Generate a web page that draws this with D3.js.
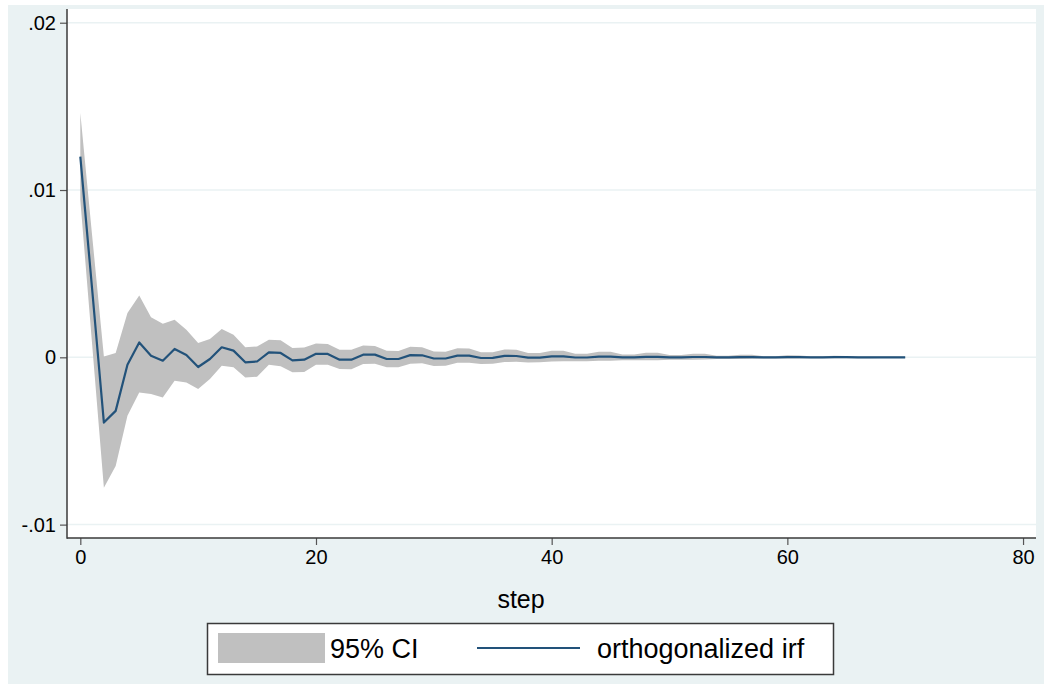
<!DOCTYPE html>
<html>
<head>
<meta charset="utf-8">
<script src="https://cdn.jsdelivr.net/npm/d3@7"></script>
<style>
  html, body { margin: 0; padding: 0; background: #ffffff; }
  svg { display: block; font-family: "Liberation Sans", Arial, Helvetica, sans-serif; }
</style>
</head>
<body>
<svg id="chart" width="1044" height="684"></svg>
<script>
// Orthogonalized impulse response with 95% confidence band, steps 0..70
const steps = d3.range(0, 71);

const irf = [
  0.0120, 0.0041, -0.0039, -0.0032, -0.00044, 0.00089, 0.0001, -0.0002, 0.0005, 0.00014,
  -0.00058, -0.0001, 0.0006, 0.0004, -0.0003, -0.00025, 0.0003, 0.00026, -0.00018, -0.00014,
  0.00021, 0.0002, -0.00014, -0.00014, 0.00016, 0.00016, -0.0001, -0.0001, 0.00013, 0.00012,
  -0.00007, -0.00007, 0.0001, 0.0001, -0.00004, -0.00003, 0.00009, 0.00008, -0.00002, -0.00002,
  0.00006, 0.00006, -0.00001, -0.00001, 0.00004, 0.00004, 0.0, 0.0, 0.00003, 0.00003,
  0.0, 0.0, 0.00002, 0.00002, 0.0, 0.0, 0.00001, 0.00001, 0.0, 0.0,
  0.00001, 0.00001, 0.0, 0.0, 0.00001, 0.00001, 0.0, 0.0, 0.0, 0.0,
  0.0
];

const ciUpper = [
  0.0146, 0.0073, 0.00005, 0.00026, 0.00265, 0.0037, 0.0024, 0.0020, 0.00225, 0.00165,
  0.00085, 0.0011, 0.0017, 0.00135, 0.0006, 0.00065, 0.00105, 0.00102, 0.00055, 0.00058,
  0.00082, 0.0008, 0.00045, 0.00045, 0.0007, 0.00068, 0.0004, 0.00038, 0.00063, 0.0006,
  0.00035, 0.00034, 0.00054, 0.00052, 0.0003, 0.0003, 0.00047, 0.00045, 0.00026, 0.00026,
  0.0004, 0.00039, 0.00021, 0.00021, 0.00034, 0.00033, 0.00017, 0.00017, 0.00028, 0.00027,
  0.00014, 0.00014, 0.00022, 0.00021, 0.0001, 0.0001, 0.00016, 0.00015, 0.00007, 0.00007,
  0.00012, 0.00011, 0.00006, 0.00006, 0.00009, 0.00008, 0.00005, 0.00005, 0.00005, 0.00005,
  0.00004
];

const ciLower = [
  0.0094, 0.0008, -0.0078, -0.0065, -0.0035, -0.0021, -0.0022, -0.0024, -0.0014, -0.0015,
  -0.0019, -0.0013, -0.0005, -0.0006, -0.0012, -0.00116, -0.00044, -0.00054, -0.0009, -0.00088,
  -0.00044, -0.00045, -0.0007, -0.00072, -0.0004, -0.00038, -0.0006, -0.0006, -0.00038, -0.00036,
  -0.00052, -0.0005, -0.00033, -0.00032, -0.0004, -0.00038, -0.00028, -0.00027, -0.00031, -0.0003,
  -0.00025, -0.00024, -0.00024, -0.00023, -0.00021, -0.0002, -0.00018, -0.00018, -0.00018, -0.00017,
  -0.00014, -0.00014, -0.00014, -0.00013, -0.0001, -0.0001, -0.0001, -0.00009, -0.00007, -0.00007,
  -0.00007, -0.00007, -0.00006, -0.00006, -0.00006, -0.00005, -0.00005, -0.00005, -0.00004, -0.00004,
  -0.00004
];

const yTickValues = [-0.01, 0, 0.01, 0.02];
const yTickLabels = ["-.01", "0", ".01", ".02"];
const xTickValues = [0, 20, 40, 60, 80];
const xTickLabels = ["0", "20", "40", "60", "80"];
const xTitle = "step";
const legendLabels = ["95% CI", "orthogonalized irf"];

const COL_BG = "#eaf2f3";
const COL_BAND = "#c0c0c0";
const COL_LINE = "#22527a";
const COL_AXIS = "#3a3a3a";

const svg = d3.select("#chart");

// Graph region background
svg.append("rect").attr("x", 8).attr("y", 5).attr("width", 1036).attr("height", 679).attr("fill", COL_BG);

const plot = { left: 67, right: 1036, top: 9, bottom: 538 };

// Plot region
svg.append("rect")
  .attr("x", plot.left).attr("y", plot.top)
  .attr("width", plot.right - plot.left).attr("height", plot.bottom - plot.top)
  .attr("fill", "#ffffff");

const x = d3.scaleLinear().domain([-1.13, 81.1]).range([plot.left, plot.right]);
const y = d3.scaleLinear().domain([-0.0108, 0.02082]).range([plot.bottom, plot.top]);

// Horizontal grid lines
svg.append("g").selectAll("line").data(yTickValues).join("line")
  .attr("x1", plot.left).attr("x2", plot.right)
  .attr("y1", d => y(d)).attr("y2", d => y(d))
  .attr("stroke", COL_BG).attr("stroke-width", 1.5);

// Confidence band
const area = d3.area()
  .x((d, i) => x(steps[i]))
  .y0((d, i) => y(ciLower[i]))
  .y1((d, i) => y(ciUpper[i]));
svg.append("path").datum(steps).attr("d", area).attr("fill", COL_BAND);

// Impulse response line
const line = d3.line().x((d, i) => x(steps[i])).y((d, i) => y(irf[i]));
svg.append("path").datum(steps).attr("d", line)
  .attr("fill", "none").attr("stroke", COL_LINE).attr("stroke-width", 2.2)
  .attr("stroke-linejoin", "round");

// Axes
const yAxis = d3.axisLeft(y).tickValues(yTickValues)
  .tickFormat((d, i) => yTickLabels[i]).tickSize(7).tickPadding(4);
const gy = svg.append("g").attr("transform", `translate(${plot.left},0)`).call(yAxis);

const xAxis = d3.axisBottom(x).tickValues(xTickValues)
  .tickFormat((d, i) => xTickLabels[i]).tickSize(7).tickPadding(5);
const gx = svg.append("g").attr("transform", `translate(0,${plot.bottom})`).call(xAxis);

[gx, gy].forEach(g => {
  g.select(".domain").remove();
  g.selectAll(".tick line").attr("stroke", "#555").attr("stroke-width", 1.2);
  g.selectAll(".tick text").attr("fill", "#000").style("font-size", "20px");
});

// Axis lines drawn across the full plot region
svg.append("line").attr("x1", plot.left).attr("x2", plot.left)
  .attr("y1", plot.top).attr("y2", plot.bottom + 0.75)
  .attr("stroke", COL_AXIS).attr("stroke-width", 1.5);
svg.append("line").attr("x1", plot.left).attr("x2", plot.right)
  .attr("y1", plot.bottom).attr("y2", plot.bottom)
  .attr("stroke", COL_AXIS).attr("stroke-width", 1.5);

// Axis title
svg.append("text").attr("x", x(37.4)).attr("y", 608)
  .attr("text-anchor", "middle").attr("fill", "#000")
  .style("font-size", "25px").text(xTitle);

// Legend
const lg = svg.append("g");
lg.append("rect").attr("x", 207.5).attr("y", 623.5).attr("width", 626).attr("height", 51)
  .attr("fill", "#ffffff").attr("stroke", COL_AXIS).attr("stroke-width", 1.5);
lg.append("rect").attr("x", 218).attr("y", 633).attr("width", 107).attr("height", 30).attr("fill", COL_BAND);
lg.append("text").attr("x", 330).attr("y", 658).attr("fill", "#000")
  .style("font-size", "27px").text(legendLabels[0]);
lg.append("line").attr("x1", 477).attr("x2", 580).attr("y1", 648).attr("y2", 648)
  .attr("stroke", COL_LINE).attr("stroke-width", 2);
lg.append("text").attr("x", 597).attr("y", 658).attr("fill", "#000")
  .style("font-size", "27px").text(legendLabels[1]);
</script>
</body>
</html>
